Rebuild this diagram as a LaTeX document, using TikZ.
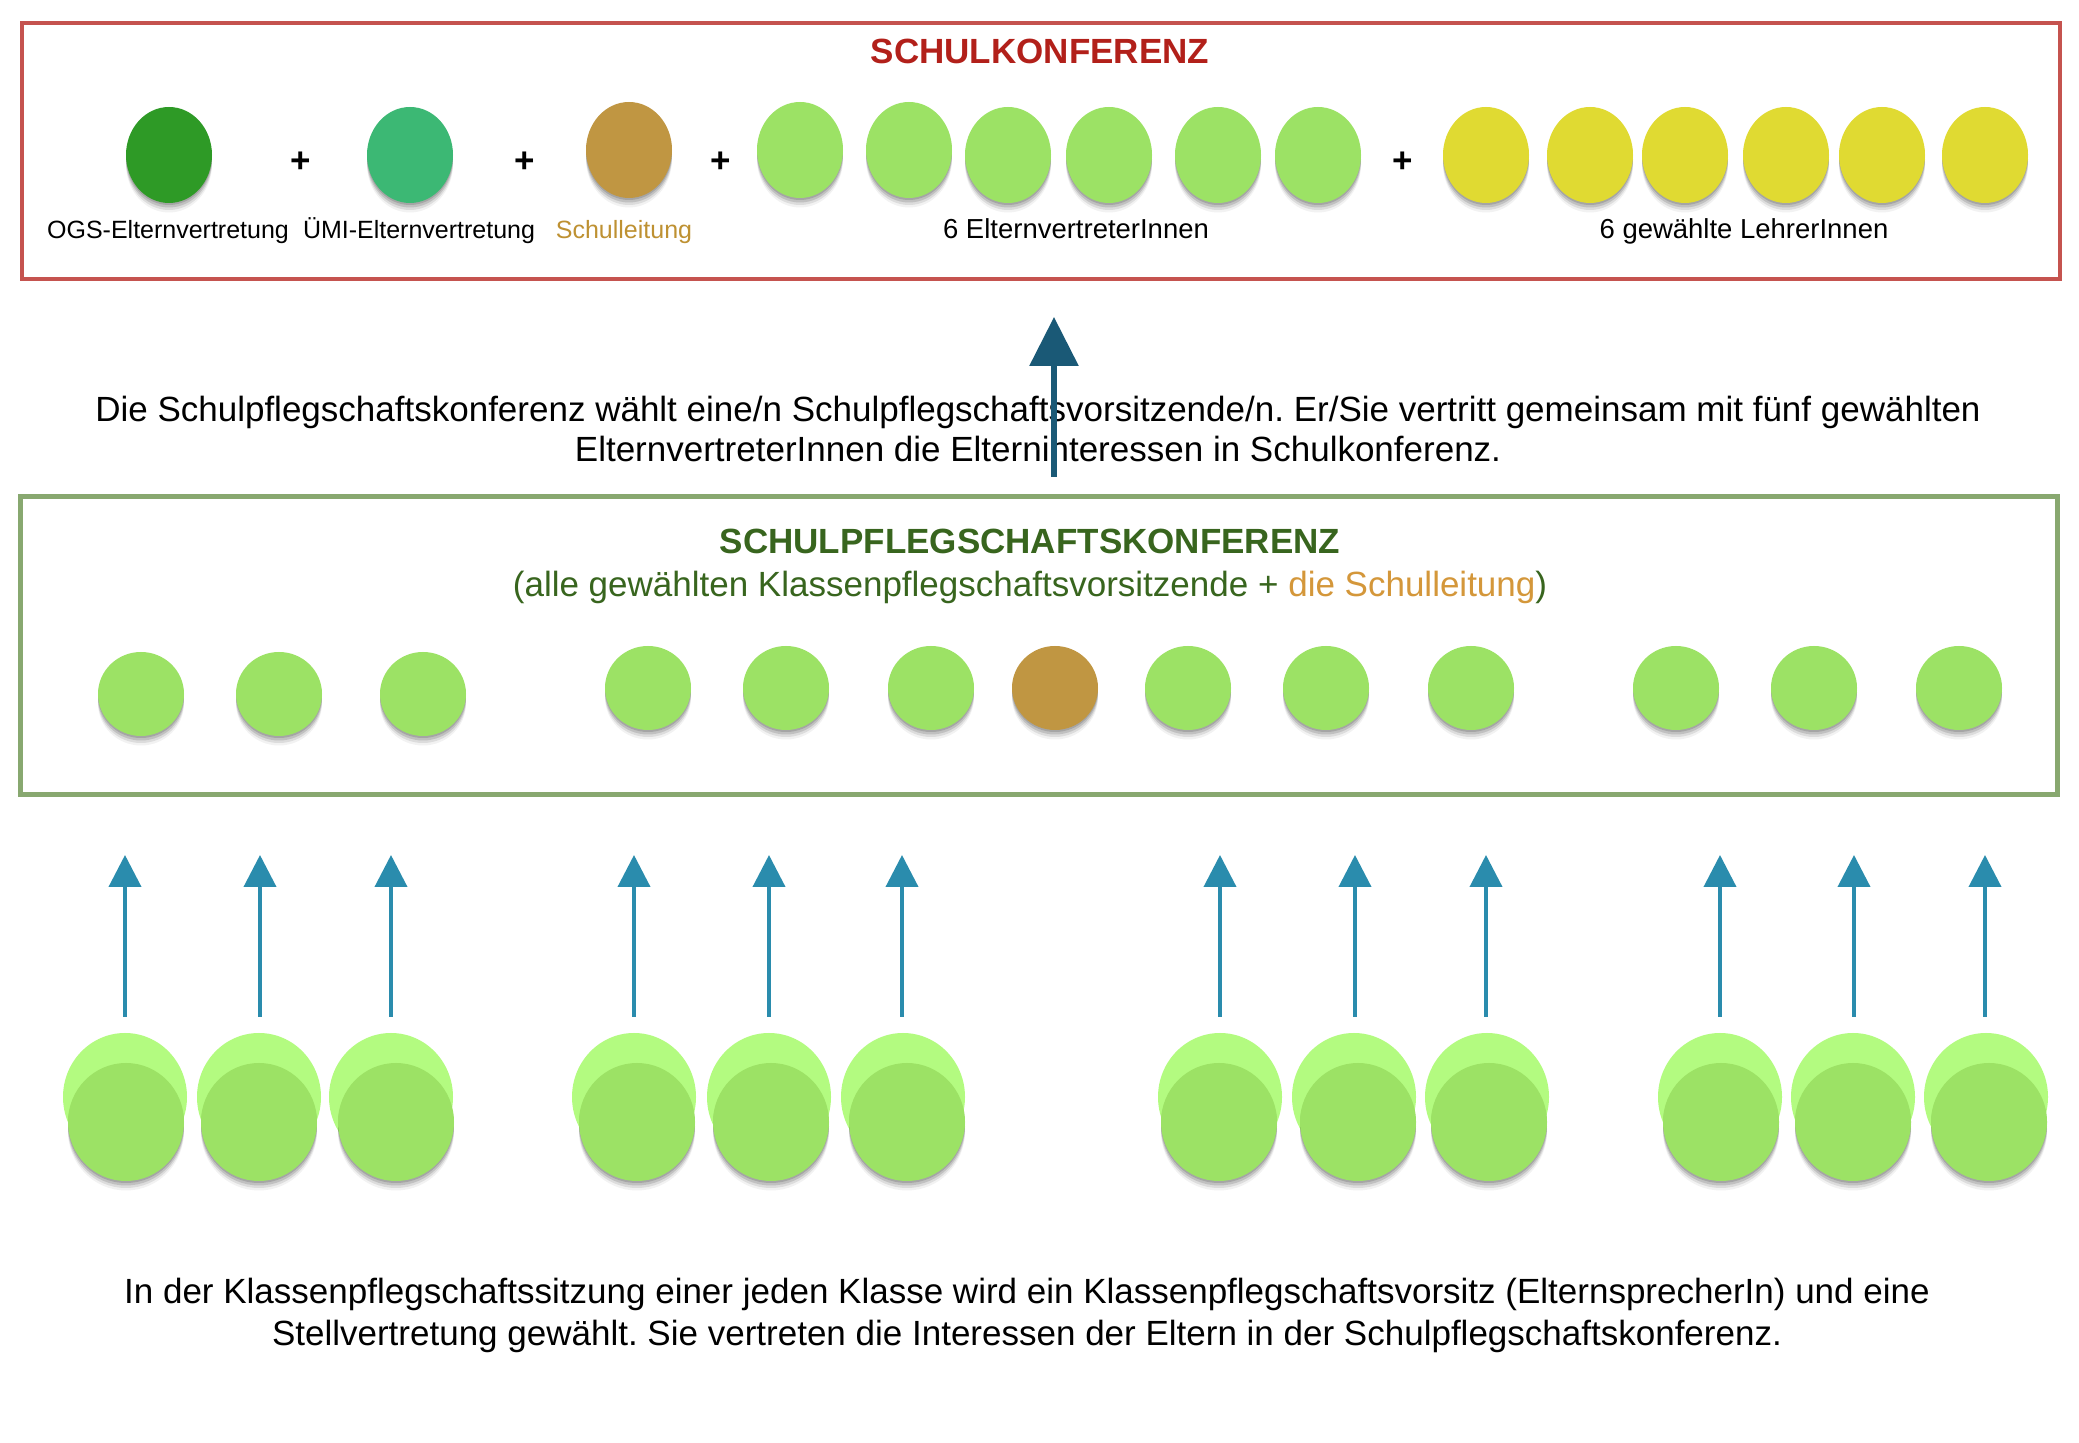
\documentclass[tikz,border=0pt]{standalone}
\usepackage{fontspec}
\setmainfont{Liberation Sans}
\usetikzlibrary{shapes.geometric,arrows.meta,shadows}
\definecolor{boxred}{RGB}{197,83,79}
\definecolor{titlered}{RGB}{178,32,26}
\definecolor{ogsgreen}{RGB}{46,154,38}
\definecolor{umigreen}{RGB}{60,184,116}
\definecolor{leitbrown}{RGB}{192,150,66}
\definecolor{lgreen}{RGB}{156,226,101}
\definecolor{paleg}{RGB}{179,251,128}
\definecolor{yel}{RGB}{224,218,50}
\definecolor{boxgreen}{RGB}{136,168,112}
\definecolor{titlegreen}{RGB}{56,101,30}
\definecolor{orangetxt}{RGB}{212,151,58}
\definecolor{leittxt}{RGB}{190,145,50}
\definecolor{bigarrowc}{RGB}{26,89,118}
\definecolor{smallarrowc}{RGB}{42,140,173}
\newcommand\mainsize{\fontsize{9.96pt}{11.38pt}\selectfont}
\newcommand\botsize{\fontsize{9.96pt}{11.95pt}\selectfont}
\newcommand\lblsize{\fontsize{7.11pt}{8.5pt}\selectfont}
\newcommand\lblbigsize{\fontsize{7.82pt}{9pt}\selectfont}
\frenchspacing
\begin{document}
\begin{tikzpicture}[x=0.1mm,y=-0.1mm,
  sh/.style={drop shadow={shadow xshift=0mm,shadow yshift=-0.2mm,opacity=0.14,fill=black},
             drop shadow={shadow xshift=0mm,shadow yshift=-0.45mm,opacity=0.12,fill=black},
             drop shadow={shadow xshift=0mm,shadow yshift=-0.7mm,opacity=0.09,fill=black},
             drop shadow={shadow xshift=0mm,shadow yshift=-0.95mm,opacity=0.05,fill=black}},
  topdot/.style={ellipse,inner sep=0pt,minimum width=8.6mm,minimum height=9.6mm,sh},
  middot/.style={ellipse,inner sep=0pt,minimum width=8.6mm,minimum height=8.4mm,fill=lgreen,sh},
  backdot/.style={ellipse,inner sep=0pt,minimum width=12.4mm,minimum height=12.8mm,fill=paleg},
  frontdot/.style={ellipse,inner sep=0pt,minimum width=11.6mm,minimum height=11.8mm,fill=lgreen,sh},
  plus/.style={font=\bfseries\mainsize,inner sep=0pt},
  lbl/.style={anchor=base,font=\lblsize,inner sep=0pt},
  lblbig/.style={anchor=base,font=\lblbigsize,inner sep=0pt},
  bigarr/.style={draw=bigarrowc,line width=0.6mm,-{Triangle[width=4.8mm,length=4.9mm]}},
  smallarr/.style={draw=smallarrowc,line width=0.4mm,-{Triangle[width=3.2mm,length=3.2mm]}}]
\useasboundingbox (0,0) rectangle (2079,1443);
\fill[white] (0,0) rectangle (2079,1443);

% ---------- Schulkonferenz box ----------
\node[draw=boxred,line width=0.45mm,minimum width=203.8mm,minimum height=25.6mm,inner sep=0pt] (sk) at (1041,151) {};
\node[anchor=base,font=\bfseries\mainsize,text=titlered,inner sep=0pt] (sktitle) at (1040,64) {SCHULKONFERENZ};

\node[topdot,fill=ogsgreen] (ogs) at (169,155) {};
\node[topdot,fill=umigreen] (umi) at (410,155) {};
\node[topdot,fill=leitbrown] (sl) at (629,150) {};
\foreach \x/\y [count=\i] in {800/150,909/150,1008/155,1109/155,1218/155,1318/155}
  \node[topdot,fill=lgreen] (ev\i) at (\x,\y) {};
\foreach \x [count=\i] in {1486,1590,1685,1786,1882,1985}
  \node[topdot,fill=yel] (lv\i) at (\x,155) {};

\node[plus] (p1) at (301,162) {+};
\node[plus] (p2) at (525,162) {+};
\node[plus] (p3) at (721,162) {+};
\node[plus] (p4) at (1403,162) {+};

\node[lbl] (l1) at (168,239) {OGS-Elternvertretung};
\node[lbl] (l2) at (419,239) {ÜMI-Elternvertretung};
\node[lbl,text=leittxt] (l3) at (624,239) {Schulleitung};
\node[lblbig] (l4) at (1076,239) {6 ElternvertreterInnen};
\node[lblbig] (l5) at (1744,239) {6 gewählte LehrerInnen};

% ---------- middle text and arrow ----------
\node[anchor=base,align=center,font=\mainsize,inner sep=0pt] (midtext) at (1038,462)
  {Die Schulpflegschaftskonferenz wählt eine/n Schulpflegschaftsvorsitzende/n. Er/Sie vertritt gemeinsam mit fünf gewählten\\
   ElternvertreterInnen die Elterninteressen in Schulkonferenz.};
\coordinate (bigtail) at (1054,477);
\coordinate (bighead) at (1054,317);
\draw[bigarr] (bigtail) -- (bighead);

% ---------- Schulpflegschaftskonferenz box ----------
\node[draw=boxgreen,line width=0.5mm,minimum width=203.7mm,minimum height=29.8mm,inner sep=0pt] (spk) at (1038.5,646) {};
\node[anchor=base,font=\bfseries\mainsize,text=titlegreen,inner sep=0pt] (spktitle) at (1030,554) {SCHULPFLEGSCHAFTSKONFERENZ};
\node[anchor=base,font=\mainsize,text=titlegreen,inner sep=0pt] (spksub) at (1030,597)
  {(alle gewählten Klassenpflegschaftsvorsitzende + \textcolor{orangetxt}{die Schulleitung})};

\foreach \x [count=\i] in {141,279,423}
  \node[middot] (m\i) at (\x,694) {};
\foreach \x [count=\i from 4] in {648,786,931,1188,1326,1471,1676,1814,1959}
  \node[middot] (m\i) at (\x,688) {};
\node[middot,fill=leitbrown] (msl) at (1055,688) {};

% ---------- arrows from classes ----------
\foreach \x [count=\i] in {125,260,391,634,769,902,1220,1355,1486,1720,1854,1985} {
  \coordinate (a\i t) at (\x,1017);
  \coordinate (a\i h) at (\x,855);
  \draw[smallarr] (a\i t) -- (a\i h);
}

% ---------- class pairs ----------
\foreach \x [count=\i] in {125,259,391,634,769,903,1220,1354,1487,1720,1853,1986}
  \node[backdot] (kb\i) at (\x,1097) {};
\foreach \x [count=\i] in {126,259,396,637,771,907,1219,1358,1489,1721,1853,1989}
  \node[frontdot] (kf\i) at (\x,1122) {};

% ---------- bottom text ----------
\node[anchor=base,align=center,font=\botsize,inner sep=0pt] (bottext) at (1027,1345)
  {In der Klassenpflegschaftssitzung einer jeden Klasse wird ein Klassenpflegschaftsvorsitz (ElternsprecherIn) und eine\\
   Stellvertretung gewählt. Sie vertreten die Interessen der Eltern in der Schulpflegschaftskonferenz.};
\end{tikzpicture}
\end{document}
